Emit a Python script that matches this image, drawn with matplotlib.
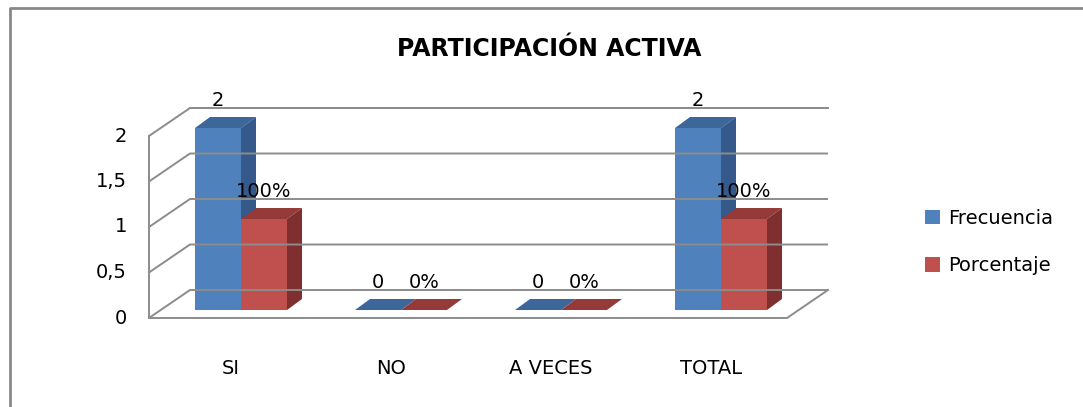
import matplotlib
matplotlib.use("Agg")
import matplotlib.pyplot as plt
from matplotlib.patches import Patch
from matplotlib.lines import Line2D

# data
categorias = ["SI", "NO", "A VECES", "TOTAL"]
frecuencia = [2, 0, 0, 2]
porcentaje = [1.0, 0.0, 0.0, 1.0]   # shown as %
ticks_y = [0, 0.5, 1, 1.5, 2]
tick_labels_y = ["0", "0,5", "1", "1,5", "2"]
series_names = ["Frecuencia", "Porcentaje"]
titulo = "PARTICIPACIÓN ACTIVA"

# colours: front, top, side
AZUL = ("#4f81bd", "#3c6798", "#34598a")
ROJO = ("#c0504d", "#943a38", "#7f302e")
GRID = "#8c8c8c"
FS = 14

W, H = 1083, 407
plt.rcParams['font.family'] = ['DejaVu Sans']

fig = plt.figure(figsize=(W / 100, H / 100), dpi=100)
ax = fig.add_axes([0, 0, 1, 1])
# one category step = 160 px, one value unit = 91 px; category 0 centred at px 241
ax.set_xlim(-241 / 160, (W - 241) / 160)
ax.set_ylim((310 - H) / 91, 310 / 91)
ax.axis("off")

bw = 46 / 160            # bar width
bdx, bdy = 15 / 160, 11 / 91     # bar depth
wdx, wdy = 41 / 160, 28 / 91     # wall depth
floor_v = -8 / 91                # front floor level
wall_x0 = (149 - 241) / 160      # front-left wall edge
wall_x1 = (828 - 241) / 160      # back-right end of walls
top_v = max(ticks_y)


def bar3d(x0, h, cols):
    f, t, s = cols
    ax.fill([x0, x0 + bw, x0 + bw, x0], [0, 0, h, h], color=f, lw=0)
    ax.fill([x0, x0 + bw, x0 + bw + bdx, x0 + bdx], [h, h, h + bdy, h + bdy], color=t, lw=0)
    ax.fill([x0 + bw, x0 + bw + bdx, x0 + bw + bdx, x0 + bw], [0, bdy, h + bdy, h], color=s, lw=0)


# walls and grid
for g, lab in zip(ticks_y, tick_labels_y):
    yf = floor_v + g
    yb = yf + wdy
    ax.plot([wall_x0, wall_x0 + wdx, wall_x1], [yf, yb, yb], color=GRID, lw=1.4, solid_capstyle="butt")
    ax.text(wall_x0 - 22 / 160, yf, lab, ha="right", va="center", fontsize=FS)
ax.plot([wall_x0, wall_x0], [floor_v, floor_v + top_v], color=GRID, lw=1.4)
ax.plot([wall_x0 + wdx, wall_x1], [floor_v + top_v + wdy] * 2, color=GRID, lw=1.4)
ax.plot([wall_x0, wall_x1 - wdx, wall_x1], [floor_v, floor_v, floor_v + wdy], color=GRID, lw=1.4)

# bars
for i, cat in enumerate(categorias):
    bar3d(i - bw, frecuencia[i], AZUL)
    bar3d(i, porcentaje[i], ROJO)
    ax.text(i - bw / 2, frecuencia[i] + 0.3, f"{frecuencia[i]:g}", ha="center", va="center", fontsize=FS)
    ax.text(i + bw / 2, porcentaje[i] + 0.3, f"{porcentaje[i]:.0%}", ha="center", va="center", fontsize=FS)
    ax.text(i - 10 / 160, -58 / 91, cat, ha="center", va="center", fontsize=FS)

ax.text((549 - 241) / 160, (310 - 49) / 91, titulo, ha="center", va="center", fontsize=17, fontweight="bold")

handles = [Patch(facecolor=AZUL[0], edgecolor="none"), Patch(facecolor=ROJO[0], edgecolor="none")]
ax.legend(handles, series_names, loc="center left", bbox_to_anchor=(925 / W, 1 - 242 / H),
          bbox_transform=fig.transFigure, frameon=False, fontsize=FS, borderpad=0, borderaxespad=0,
          handlelength=0.78, handleheight=0.78, handletextpad=0.4, labelspacing=1.45)

# chart border (top and left visible)
fig.add_artist(Line2D([10 / W, 10 / W, 1], [0, 1 - 8 / H, 1 - 8 / H], transform=fig.transFigure,
                      color="#888888", lw=2))

fig.savefig("out.png", dpi=100)
